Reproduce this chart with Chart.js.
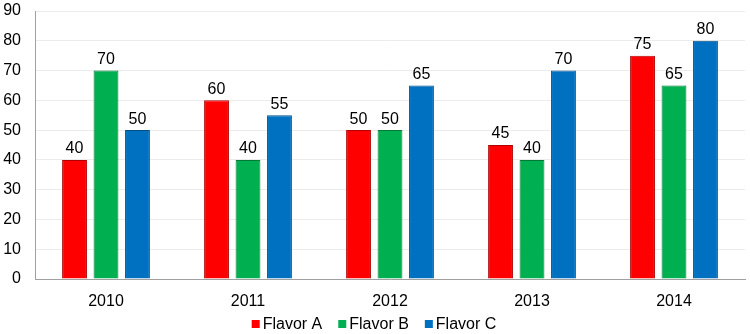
<!DOCTYPE html>
<html><head><meta charset="utf-8">
<script src="https://cdn.jsdelivr.net/npm/chart.js@4/dist/chart.umd.min.js"></script>
<style>html,body{margin:0;padding:0;background:#fff}#wrap{width:750px;height:334px}</style>
</head><body><div id="wrap"><canvas id="c" width="750" height="334"></canvas></div>
<script>
const categories = ["2010","2011","2012","2013","2014"];
const flavorA = [40,60,50,45,75];
const flavorB = [70,40,50,40,65];
const flavorC = [50,55,65,70,80];
const yTicks = [0,10,20,30,40,50,60,70,80,90];

const FONT = '16px "Liberation Sans", Arial, sans-serif';

const labelPlugin = {
  id:'labels',
  afterDatasetsDraw(chart){
    const ctx = chart.ctx;
    ctx.save();
    ctx.font = FONT;
    ctx.fillStyle = '#000';
    ctx.textAlign = 'center';
    ctx.textBaseline = 'bottom';
    chart.data.datasets.forEach((ds,i)=>{
      chart.getDatasetMeta(i).data.forEach((bar,j)=>{
        ctx.fillText(String(ds.data[j]), bar.x, bar.y - 3);
      });
    });
    ctx.restore();
  }
};

const legendPlugin = {
  id:'customLegend',
  afterDraw(chart){
    const ctx = chart.ctx;
    ctx.save();
    ctx.font = FONT;
    ctx.textBaseline = 'middle';
    ctx.textAlign = 'left';
    const box = 8, gapBox = 3, gapItem = 16, cy = 324;
    const items = chart.data.datasets.map(ds=>({label:ds.label, color:ds.backgroundColor, w: box + gapBox + ctx.measureText(ds.label).width}));
    const total = items.reduce((s,it)=>s+it.w,0) + gapItem*(items.length-1);
    let x = (chart.width - total)/2 - 1;
    items.forEach(it=>{
      ctx.fillStyle = it.color;
      ctx.fillRect(x, cy - box/2, box, box);
      ctx.fillStyle = '#000';
      ctx.fillText(it.label, x + box + gapBox, cy + 1);
      x += it.w + gapItem;
    });
    ctx.restore();
  }
};

Chart.defaults.font.family = '"Liberation Sans", Arial, sans-serif';
Chart.defaults.font.size = 16;
Chart.defaults.color = '#000';

new Chart(document.getElementById('c'), {
  type:'bar',
  data:{
    labels:categories,
    datasets:[
      {label:'Flavor A', data:flavorA, backgroundColor:'#ff0000', borderColor:'#b00000', borderWidth:1},
      {label:'Flavor B', data:flavorB, backgroundColor:'#00b050', borderColor:'#007a38', borderWidth:1},
      {label:'Flavor C', data:flavorC, backgroundColor:'#0070c0', borderColor:'#004f8a', borderWidth:1}
    ]
  },
  options:{
    responsive:false,
    animation:false,
    layout:{padding:{left:0,right:5,top:11,bottom:25}},
    categoryPercentage:0.665,
    barPercentage:0.79,
    plugins:{
      legend:{display:false},
      tooltip:{enabled:false}
    },
    scales:{
      x:{grid:{display:false}, border:{color:'#a0a0a0'}, ticks:{padding:5},
         afterFit(s){ s.height = 30; s.paddingLeft = 0; s.paddingRight = 0; }},
      y:{min:0,max:90, afterBuildTicks(ax){ax.ticks = yTicks.map(v=>({value:v}));},
         grid:{color:'#ececec', drawTicks:false}, border:{color:'#a0a0a0'}, ticks:{padding:14},
         afterFit(s){ s.width = 35; s.paddingTop = 0; s.paddingBottom = 0; }}
    }
  },
  plugins:[labelPlugin, legendPlugin]
});
</script></body></html>
